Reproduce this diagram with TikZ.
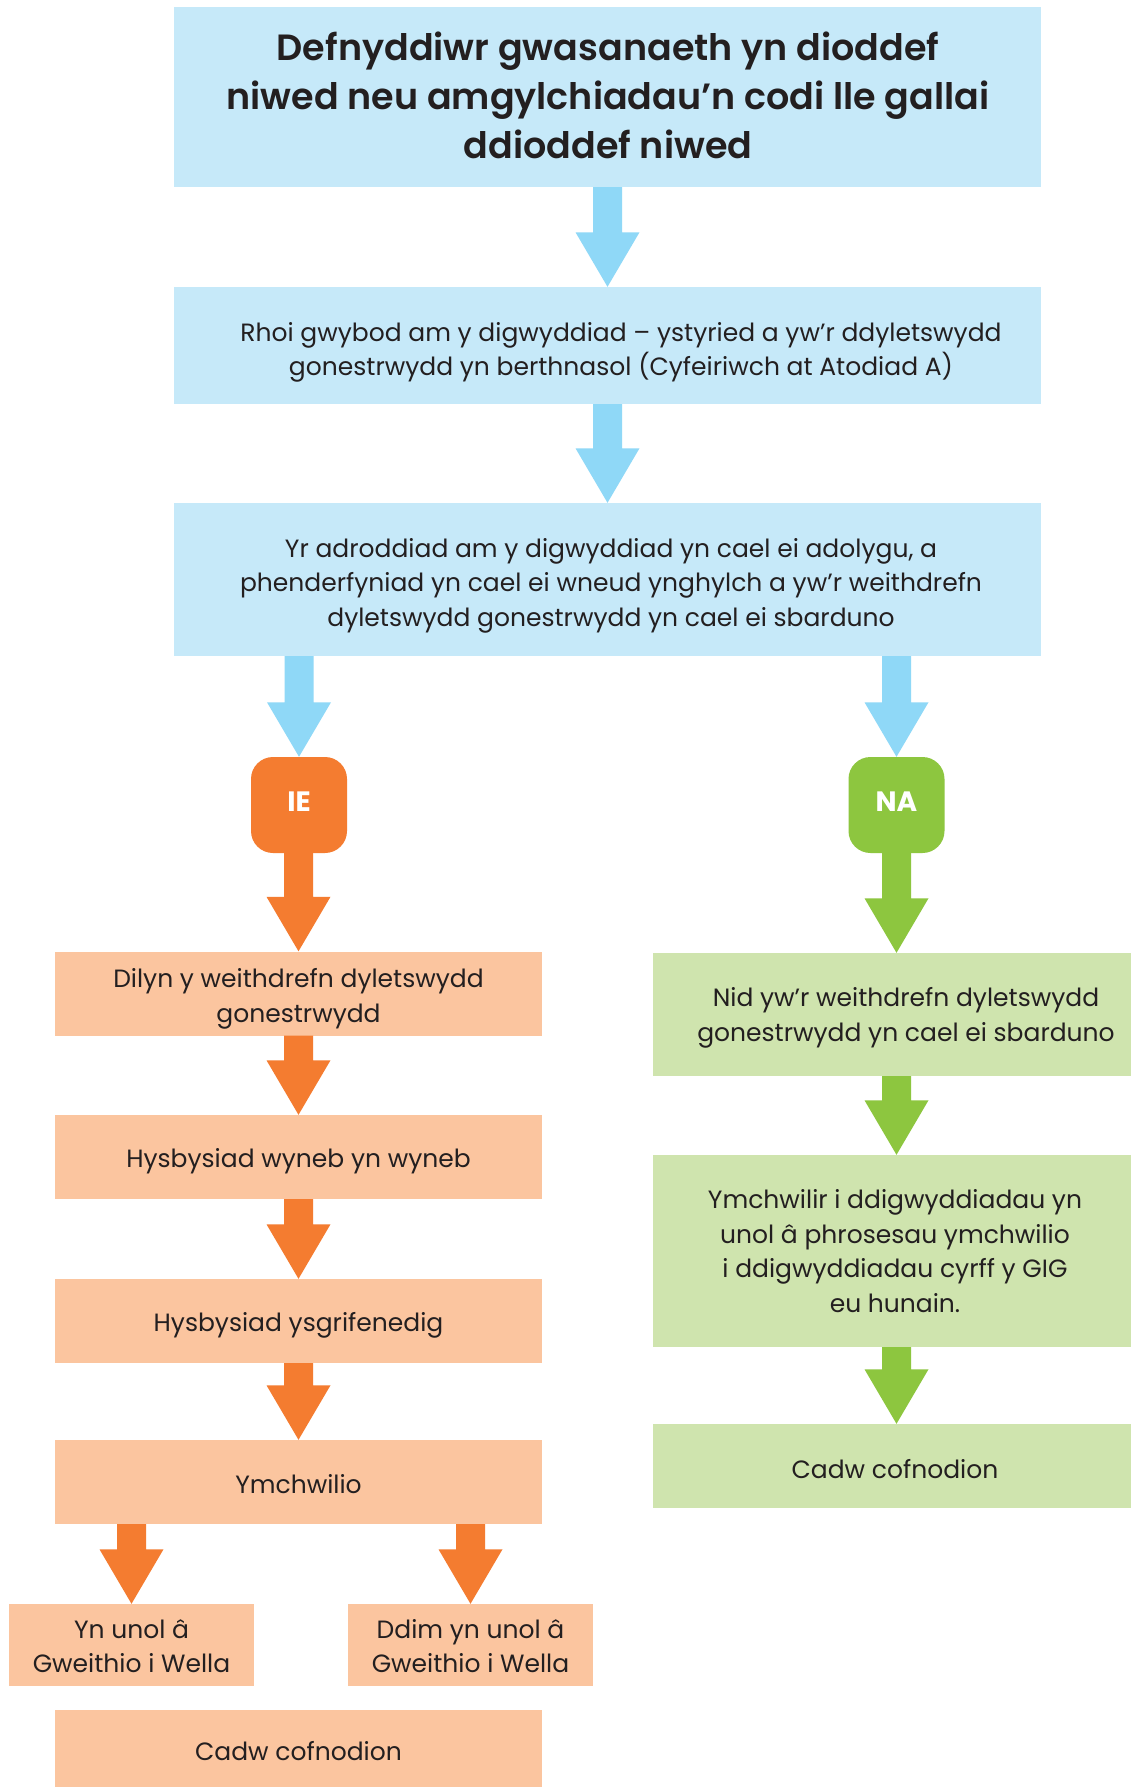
\documentclass[tikz,border=0pt]{standalone}
\usepackage{fontspec}
\setmainfont{Poppins}
\newfontfamily\titlefont{Poppins SemiBold}
\usetikzlibrary{calc}
\definecolor{lblue}{HTML}{C6E9F9}
\definecolor{ablue}{HTML}{8FD8F7}
\definecolor{orng}{HTML}{F47C30}
\definecolor{lorng}{HTML}{FBC59F}
\definecolor{grn}{HTML}{8DC63F}
\definecolor{lgrn}{HTML}{CFE4AE}
\definecolor{ink}{HTML}{231F20}
\newcommand\fatarr[3]{\fill[#1] let \p1=(#2), \p2=(#3) in
  ({\x2-14.5pt},\y1) -- ({\x2-14.5pt},{\y2+54.5pt}) -- ({\x2-32pt},{\y2+54.5pt}) --
  (\x2,\y2) -- ({\x2+32pt},{\y2+54.5pt}) -- ({\x2+14.5pt},{\y2+54.5pt}) --
  ({\x2+14.5pt},\y1) -- cycle;}
\begin{document}
\begin{tikzpicture}[x=1pt,y=-1pt,
  txt/.style={font=\fontsize{25}{34.5}\selectfont, text=ink, align=center, inner sep=0pt},
  bluebox/.style={fill=lblue, minimum width=867pt, inner sep=0pt},
  obox/.style={fill=lorng, minimum width=487pt, minimum height=84pt, inner sep=0pt},
  gbox/.style={fill=lgrn, inner sep=0pt},
  pill/.style={rounded corners=22pt, minimum size=96pt, inner sep=0pt, text=white,
    font=\bfseries\fontsize{28}{30}\selectfont},
  titletxt/.style={font=\titlefont\fontsize{36.5}{49}\selectfont, text=ink, align=center, inner sep=0pt}
]
\useasboundingbox (0,0) rectangle (1131,1787);
\fill[white] (0,0) rectangle (1131,1787);

% blue boxes
\node[bluebox, minimum height=180pt] (t1) at (607.5,97) {};
\node[titletxt] (t1txt) at (608,95) {Defnyddiwr gwasanaeth yn dioddef\\niwed neu amgylchiadau’n codi lle gallai\\ddioddef niwed};
\node[bluebox, minimum height=117pt] (t2) at (607.5,345.5) {};
\node[txt] (t2txt) at (621,352.5) {Rhoi gwybod am y digwyddiad – ystyried a yw’r ddyletswydd\\gonestrwydd yn berthnasol (Cyfeiriwch at Atodiad A)};
\node[bluebox, minimum height=153pt] (t3) at (607.5,579.5) {};
\node[txt] (t3txt) at (611,585.5) {Yr adroddiad am y digwyddiad yn cael ei adolygu, a\\phenderfyniad yn cael ei wneud ynghylch a yw’r weithdrefn\\dyletswydd gonestrwydd yn cael ei sbarduno};

% decision pills
\node[pill, fill=orng] (ie) at (299,805) {};
\node[pill, text=white, fill=none] (ietxt) at (299,801.5) {IE};
\node[pill, fill=grn] (na) at (896.5,805) {};
\node[pill, text=white, fill=none] (natxt) at (896.5,801.5) {NA};

% orange column
\node[obox] (o1) at (298.5,993.5) {};
\node[txt] (o1t) at (298.5,999) {Dilyn y weithdrefn dyletswydd\\gonestrwydd};
\node[obox] (o2) at (298.5,1157) {};
\node[txt] (o2t) at (298.5,1161.5) {Hysbysiad wyneb yn wyneb};
\node[obox] (o3) at (298.5,1321) {};
\node[txt] (o3t) at (298.5,1325.5) {Hysbysiad ysgrifenedig};
\node[obox] (o4) at (298.5,1482) {};
\node[txt] (o4t) at (298.5,1484) {Ymchwilio};
\node[obox, minimum width=245pt, minimum height=82pt] (sl) at (131.5,1645) {};
\node[txt] (slt) at (131.5,1646) {Yn unol â\\Gweithio i Wella};
\node[obox, minimum width=245pt, minimum height=82pt] (sr) at (470.5,1645) {};
\node[txt] (srt) at (470.5,1646) {Ddim yn unol â\\Gweithio i Wella};
\node[obox, minimum height=82pt] (o5) at (298.5,1751) {};
\node[txt] (o5t) at (298.5,1751) {Cadw cofnodion};

% green column
\node[gbox, minimum width=506pt, minimum height=123pt] (g1) at (906,1014.5) {};
\node[txt] (g1t) at (906,1018) {Nid yw’r weithdrefn dyletswydd\\gonestrwydd yn cael ei sbarduno};
\node[gbox, minimum width=484pt, minimum height=192pt] (g2) at (895,1251) {};
\node[txt] (g2t) at (895,1251) {Ymchwilir i ddigwyddiadau yn\\unol â phrosesau ymchwilio\\i ddigwyddiadau cyrff y GIG\\eu hunain.};
\node[gbox, minimum width=484pt, minimum height=84pt] (g3) at (895,1466) {};
\node[txt] (g3t) at (895,1469.5) {Cadw cofnodion};

\coordinate (g1top) at (na.south |- g1.north);
\coordinate (g2top) at (na.south |- g2.north);
\coordinate (g3top) at (na.south |- g3.north);

% arrows
\fatarr{ablue}{t1.south}{t2.north}
\fatarr{ablue}{t2.south}{t3.north}
\fatarr{ablue}{t3.south}{ie.north}
\fatarr{ablue}{t3.south}{na.north}
\fatarr{orng}{ie.south}{o1.north}
\fatarr{orng}{o1.south}{o2.north}
\fatarr{orng}{o2.south}{o3.north}
\fatarr{orng}{o3.south}{o4.north}
\fatarr{orng}{o4.south}{sl.north}
\fatarr{orng}{o4.south}{sr.north}
\fatarr{grn}{na.south}{g1top}
\fatarr{grn}{g1.south}{g2top}
\fatarr{grn}{g2.south}{g3top}
\end{tikzpicture}
\end{document}
